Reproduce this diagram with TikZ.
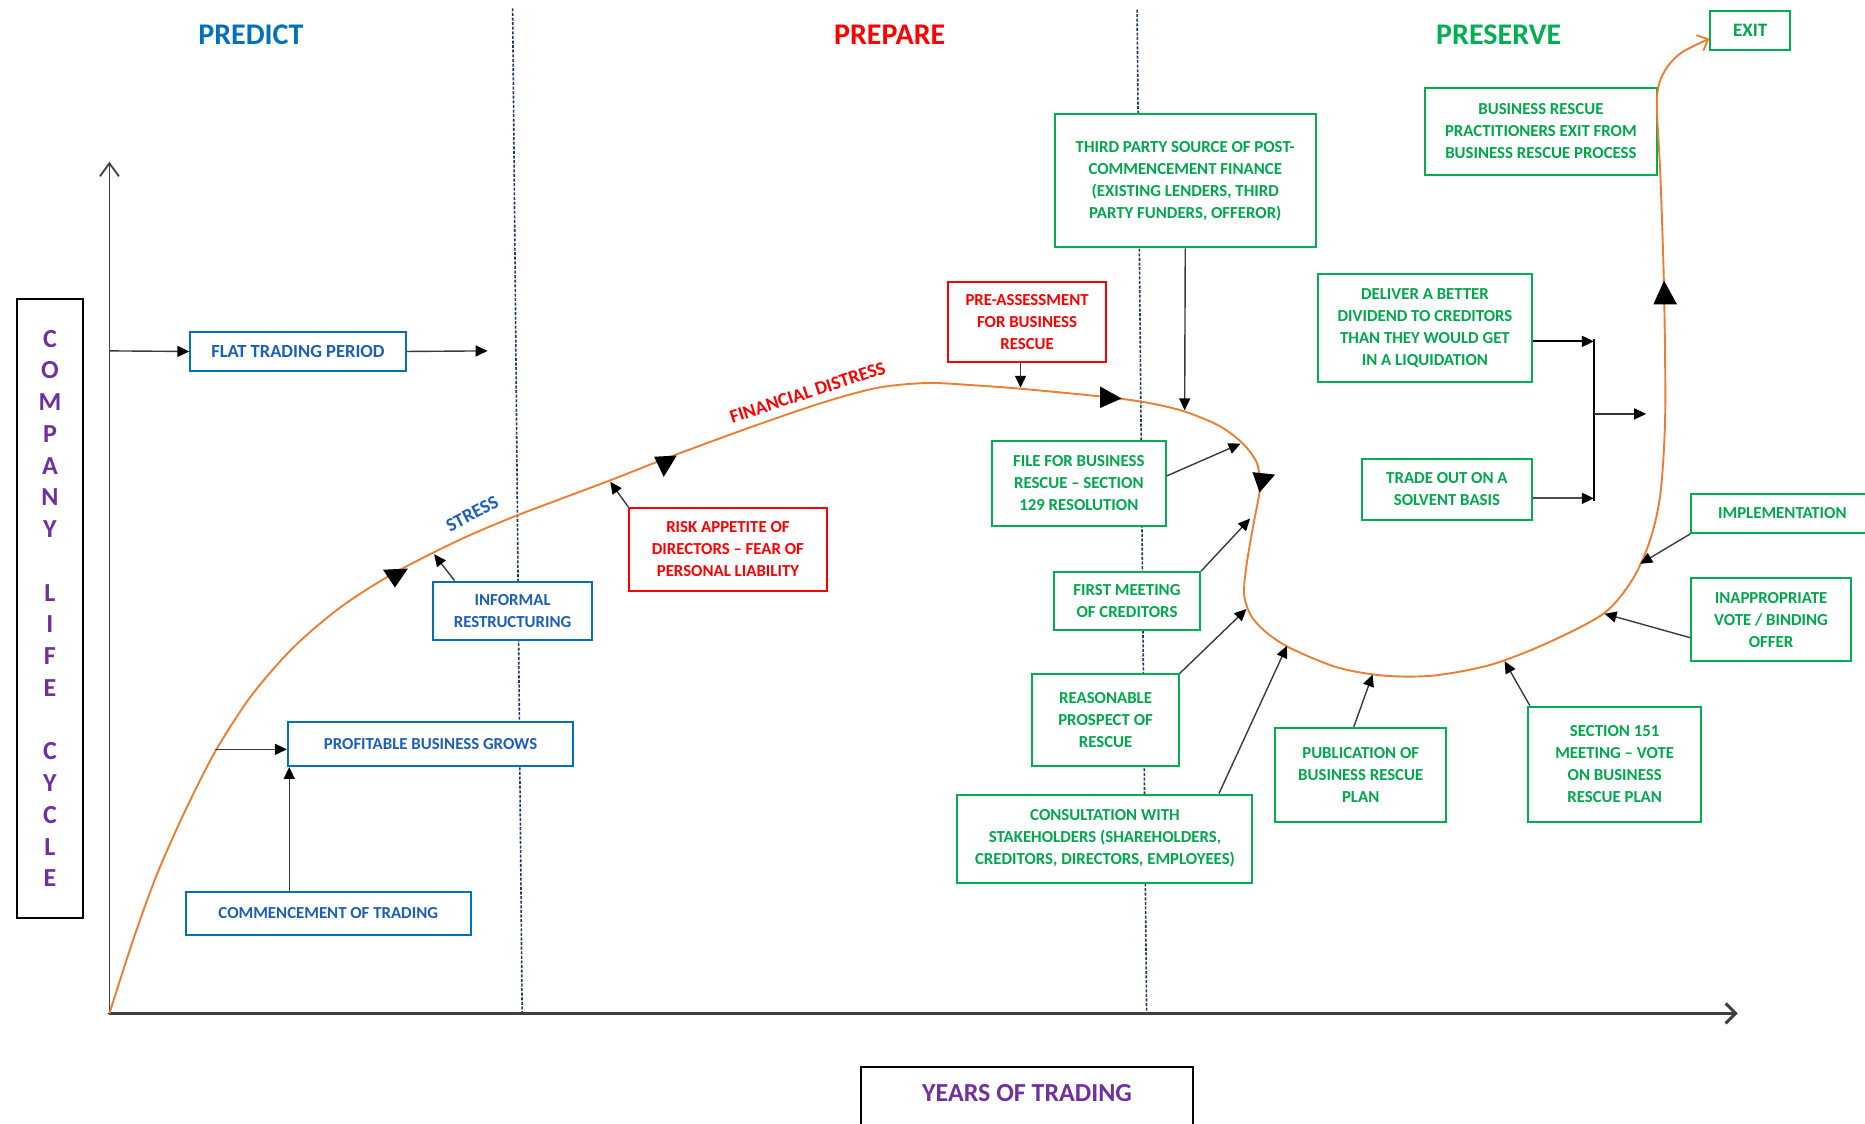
\documentclass[tikz,border=0pt]{standalone}
\usepackage{fontspec}
\setmainfont{Carlito}
\usetikzlibrary{arrows.meta,calc}

\definecolor{pblue}{HTML}{0070C0}
\definecolor{pbluetext}{HTML}{1C5FB8}
\definecolor{pred}{HTML}{FF0000}
\definecolor{pgreen}{HTML}{00B050}
\definecolor{pgreentext}{HTML}{00A84C}
\definecolor{ppurple}{HTML}{7030A0}
\definecolor{porange}{HTML}{ED7D31}
\definecolor{pnavy}{HTML}{1F3864}
\definecolor{connc}{HTML}{3A3A3A}

% box given by its corners (x1,y1) (x2,y2) in drawing units
\newcommand{\cornerbox}[7]{%
  \node[#2, minimum width={(#5-#3)*1.1894pt}, minimum height={(#6-#4)*1.1894pt}]
    (#1) at ({(#3+#5)/2},{(#4+#6)/2}) {#7};}

\begin{document}
\begin{tikzpicture}[x=1.1894pt, y=-1.1894pt,
  boxbase/.style={draw, line width=2pt, fill=white, inner sep=0pt, align=center,
    font=\bfseries\fontsize{16.8}{22}\selectfont},
  bluebox/.style={boxbase, draw=pblue, text=pbluetext},
  redbox/.style={boxbase, draw=pred, text=pred},
  greenbox/.style={boxbase, draw=pgreen, text=pgreentext},
  blackbox/.style={boxbase, draw=black},
  conn/.style={draw=connc, line width=1.4pt, -{Triangle[length=12pt,width=11pt,color=black]}},
  bracket/.style={draw=black, line width=2pt},
  phase/.style={font=\bfseries\fontsize{30}{36}\selectfont},
  divider/.style={draw=pnavy, line width=1.6pt, dash pattern=on 3pt off 1.6pt},
  axis/.style={draw=black!75, line cap=round},
  lifecurve/.style={draw=porange, line width=1.9pt},
  curvetext/.style={font=\bfseries\fontsize{19}{22}\selectfont},
  marker/.style={fill=black}
]
\useasboundingbox (0,0) rectangle (1568,945);

% phase dividers
\draw[divider] (431,7) -- (439,852);
\draw[divider] (956,8) -- (964,852);

% axes
\draw[axis, line width=1.8pt, -{Straight Barb[length=13pt,width=19pt]}] (92,852) -- (92,136);
\draw[axis, line width=3pt, -{Straight Barb[length=10pt,width=20pt]}] (92,852) -- (1461,852);

% phase headings
\node[phase, text=pblue] (predict) at (211,29) {PREDICT};
\node[phase, text=pred] (prepare) at (748,29) {PREPARE};
\node[phase, text=pgreen] (preserve) at (1260,29) {PRESERVE};

% labels along the curve
\node[curvetext, text=pbluetext, rotate=27, fill=white, inner xsep=16pt, inner ysep=7pt] (stress) at (397,432) {STRESS};
\node[curvetext, text=pred, rotate=18] (distress) at (679,330) {FINANCIAL DISTRESS};

% axis titles
\cornerbox{lifebox}{blackbox, text=ppurple, font=\bfseries\fontsize{26}{31.75}\selectfont}{14}{251}{70}{772}%
  {C\\O\\M\\P\\A\\N\\Y\\[31.75pt]L\\I\\F\\E\\[31.75pt]C\\Y\\C\\L\\E}
\node[blackbox, text=ppurple, font=\bfseries\fontsize{26}{30}\selectfont, anchor=north,
  minimum width={279*1.1894pt}, text height=34.5pt, text depth=36pt] (years) at (863.5,896) {YEARS OF TRADING};

% predict phase
\cornerbox{flat}{bluebox, font=\bfseries\fontsize{18.5}{22}\selectfont}{160}{279}{341}{312}{FLAT TRADING PERIOD}
\cornerbox{grows}{bluebox}{242}{607}{482}{644}{PROFITABLE BUSINESS GROWS}
\cornerbox{commence}{bluebox}{156}{750}{396}{786}{COMMENCEMENT OF TRADING}
\cornerbox{informal}{bluebox}{364}{489}{498}{538}{INFORMAL\\RESTRUCTURING}

% prepare phase
\cornerbox{risk}{redbox}{529}{427}{695}{497}{RISK APPETITE OF\\DIRECTORS – FEAR OF\\PERSONAL LIABILITY}
\cornerbox{preassess}{redbox}{797}{237}{930}{304}{PRE-ASSESSMENT\\FOR BUSINESS\\RESCUE}

% preserve phase
\cornerbox{thirdparty}{greenbox, text depth=4pt}{887}{96}{1106}{208}{\rule{0pt}{14pt}THIRD PARTY SOURCE OF POST-\\COMMENCEMENT FINANCE\\(EXISTING LENDERS, THIRD\\PARTY FUNDERS, OFFEROR)}
\cornerbox{file}{greenbox}{834}{371}{980}{442}{FILE FOR BUSINESS\\RESCUE – SECTION\\129 RESOLUTION}
\cornerbox{firstmeet}{greenbox}{886}{481}{1009}{530}{FIRST MEETING\\OF CREDITORS}
\cornerbox{prospect}{greenbox}{868}{567}{991}{644}{REASONABLE\\PROSPECT OF\\RESCUE}
\cornerbox{consult}{greenbox}{805}{668}{1053}{742}{CONSULTATION WITH\\STAKEHOLDERS (SHAREHOLDERS,\\CREDITORS, DIRECTORS, EMPLOYEES)}
\cornerbox{publish}{greenbox}{1072}{612}{1216}{691}{PUBLICATION OF\\BUSINESS RESCUE\\PLAN}
\cornerbox{sec151}{greenbox}{1285}{594}{1430}{691}{SECTION 151\\MEETING – VOTE\\ON BUSINESS\\RESCUE PLAN}
\cornerbox{inapprop}{greenbox}{1422}{486}{1556}{556}{INAPPROPRIATE\\VOTE / BINDING\\OFFER}
\cornerbox{implement}{greenbox}{1422}{415}{1575}{448}{IMPLEMENTATION}
\cornerbox{tradeout}{greenbox}{1145}{386}{1288}{437}{TRADE OUT ON A\\SOLVENT BASIS}
\cornerbox{deliver}{greenbox}{1108}{230}{1288}{321}{DELIVER A BETTER\\DIVIDEND TO CREDITORS\\THAN THEY WOULD GET\\IN A LIQUIDATION}
\cornerbox{brpexit}{greenbox}{1198}{74}{1393}{147}{BUSINESS RESCUE\\PRACTITIONERS EXIT FROM\\BUSINESS RESCUE PROCESS}
\cornerbox{exit}{greenbox, font=\bfseries\fontsize{19}{22}\selectfont}{1438}{9}{1505}{42}{EXIT}

% company life cycle curve
\coordinate (cexit) at ($(exit.west)+(0,7)$);
\draw[lifecurve, -{Straight Barb[length=9pt,width=17pt]}] plot[smooth, tension=0.5] coordinates {
  (92,852) (112,790) (132,735) (156,681) (182,630) (212,584) (247,544) (287,510)
  (331,482) (384,455) (433,434) (510,405) (561,385) (626,361) (690,339) (738,326)
  (780,322) (820,324) (860,327) (932,334) (967,339) (996,346) (1025,358) (1045,373)
  (1057,390) (1059,412) (1054,440) (1048,475) (1046,500) (1052,518) (1065,532)
  (1085,545) (1124,561) (1163,568) (1205,568) (1253,559) (1300,541) (1348,516)
  (1372,488) (1387,455) (1396,415) (1400,348) (1399,242) (1396,149) (1393,90)
  (1395,70) (1402,56) (1414,44) (cexit)};

% direction markers on the curve
\fill[marker] (322,479) -- (343,478) -- (332,494) -- cycle;
\fill[marker] (550,384) -- (569,383) -- (558,401) -- cycle;
\fill[marker] (925,325) -- (925,343) -- (943,335) -- cycle;
\fill[marker] (1053,397) -- (1072,399) -- (1059,414) -- cycle;
\fill[marker] (1390,256) -- (1410,256) -- (1399,236) -- cycle;

% points where connectors meet the curve
\coordinate (yflat) at (92,295);
\coordinate (flatend) at (410,295);
\coordinate (cgrow) at (181,630);
\coordinate (cinf) at (365,466);
\coordinate (crisk) at (513,405);
\coordinate (cpre) at (858,326);
\coordinate (ctp) at (996,345);
\coordinate (cfile) at (1043,373);
\coordinate (cfirst) at (1051,436);
\coordinate (cprosp) at (1048,512);
\coordinate (ccons) at (1082,543);
\coordinate (cpub) at (1154,567);
\coordinate (c151) at (1265,556);
\coordinate (cinap) at (1349,516);
\coordinate (cimpl) at (1379,474);
\coordinate (brktop) at (1340,287);
\coordinate (brkbot) at (1340,419);
\coordinate (brkmid) at (1340,348);
\coordinate (brkout) at (1384,348);
\coordinate (comtop) at ($(commence.north west)+(88,0)$);

% connectors
\draw[conn] (yflat) -- (flat.west);
\draw[conn] (flat.east) -- (flatend);
\draw[conn] (cgrow) -- (cgrow -| grows.west);
\draw[conn] (comtop) -- (comtop |- grows.south);
\draw[conn] ($(informal.north west)+(19,0)$) -- (cinf);
\draw[conn] (risk.north west) -- (crisk);
\draw[conn] ($(preassess.south)+(-5.5,0)$) -- (cpre);
\draw[conn] (thirdparty.south) -- (ctp);
\draw[conn] ($(file.north east)+(0,30)$) -- (cfile);
\draw[conn] (firstmeet.north east) -- (cfirst);
\draw[conn] (prospect.north east) -- (cprosp);
\draw[conn] ($(consult.north east)+(-29,0)$) -- (ccons);
\draw[conn] ($(publish.north west)+(67,0)$) -- (cpub);
\draw[conn] ($(sec151.north west)+(2,0)$) -- (c151);
\draw[conn] ($(inapprop.north west)+(0,51)$) -- (cinap);
\draw[conn] (implement.south west) -- (cimpl);
\draw[conn, draw=black, line width=2pt] (deliver.east |- brktop) -- (brktop);
\draw[conn, draw=black!70, line width=2pt] (tradeout.east |- brkbot) -- (brkbot);
\draw[bracket] ($(brktop)+(0,-2)$) -- ($(brkbot)+(0,2)$);
\draw[conn, draw=black!80] (brkmid) -- (brkout);
\end{tikzpicture}
\end{document}
